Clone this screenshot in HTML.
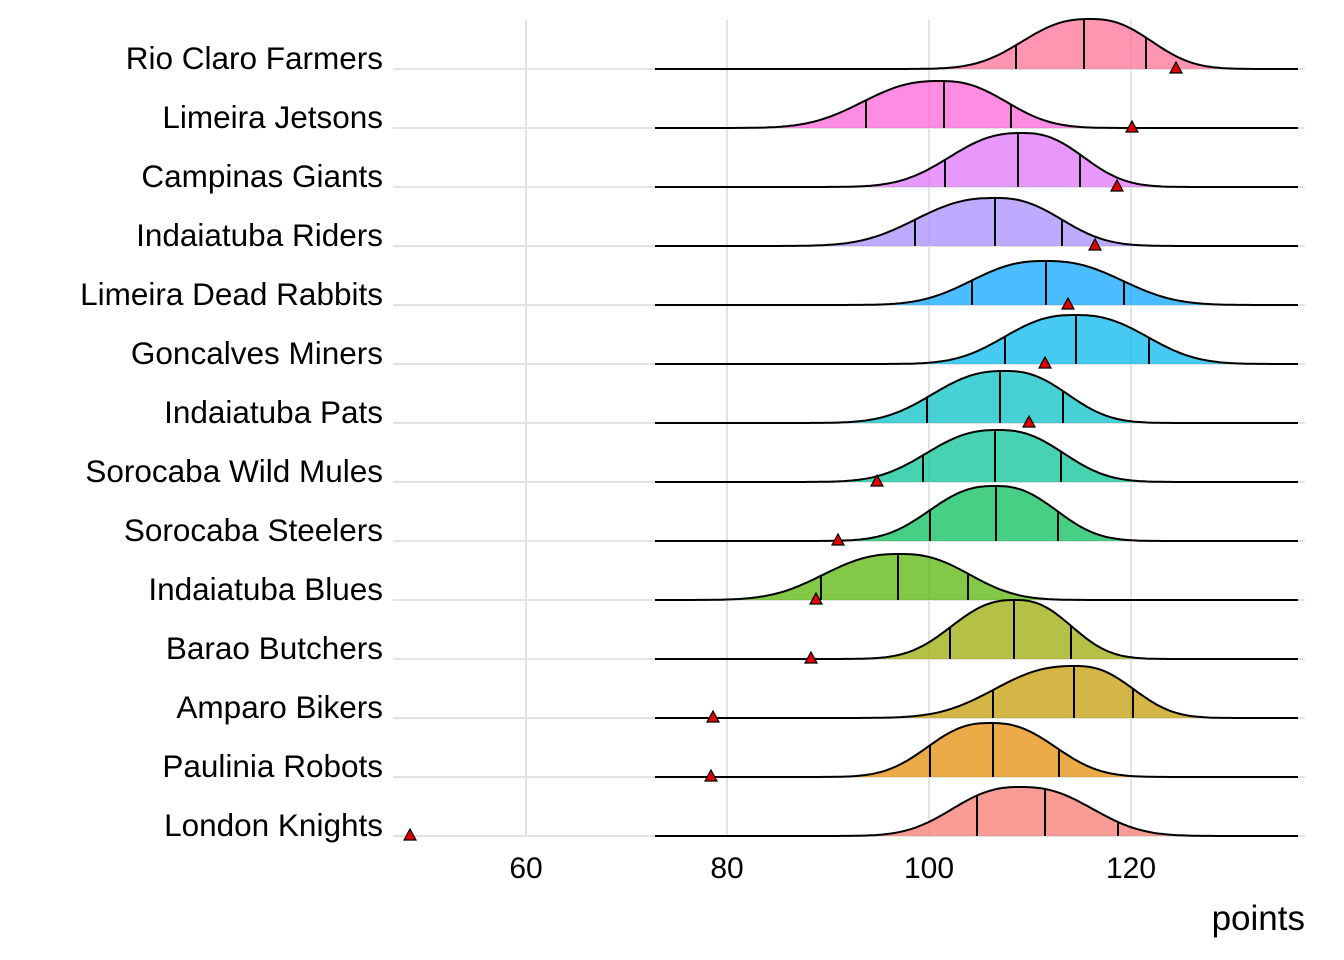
<!DOCTYPE html>
<html><head><meta charset="utf-8"><style>
body{margin:0;background:#fff}
svg{display:block}
text{font-family:"Liberation Sans",Arial,sans-serif;fill:#000}
</style></head><body>
<svg id="s" width="1344" height="960" viewBox="0 0 1344 960" xmlns="http://www.w3.org/2000/svg">
<rect width="1344" height="960" fill="#fff"/>
<g stroke="#e3e3e3" stroke-width="2">
<line x1="526" y1="20" x2="526" y2="836"/><line x1="727" y1="20" x2="727" y2="836"/>
<line x1="929" y1="20" x2="929" y2="836"/><line x1="1131" y1="20" x2="1131" y2="836"/>
</g>
<g id="rows"></g>
<g font-size="31.5" text-anchor="end">
<text x="383" y="69">Rio Claro Farmers</text>
<text x="383" y="128">Limeira Jetsons</text>
<text x="383" y="187">Campinas Giants</text>
<text x="383" y="246">Indaiatuba Riders</text>
<text x="383" y="305">Limeira Dead Rabbits</text>
<text x="383" y="364">Goncalves Miners</text>
<text x="383" y="423">Indaiatuba Pats</text>
<text x="383" y="482">Sorocaba Wild Mules</text>
<text x="383" y="541">Sorocaba Steelers</text>
<text x="383" y="600">Indaiatuba Blues</text>
<text x="383" y="659">Barao Butchers</text>
<text x="383" y="718">Amparo Bikers</text>
<text x="383" y="777">Paulinia Robots</text>
<text x="383" y="836">London Knights</text>
</g>
<g font-size="30" text-anchor="middle">
<text x="526" y="878">60</text><text x="727" y="878">80</text>
<text x="929" y="878">100</text><text x="1131" y="878">120</text>
</g>
<text x="1305" y="930" font-size="35" text-anchor="end">points</text>
</svg>
<script>
var R=[
["#FF6C91",1090,50,1016,1084,1146,1176],
["#FB61D7",940,47,866,944,1011,1132],
["#DF70F8",1022,54,945,1018,1080,1117],
["#A58AFF",995,48,915,995,1062,1095],
["#06A4FF",1045,44,972,1046,1124,1068],
["#00B6EB",1075,49,1005,1076,1149,1045],
["#00BFC4",1005,52,927,1000,1063,1029],
["#00C094",998,52,923,995,1061,877],
["#00BC56",995,55,930,996,1058,838],
["#53B400",900,46,821,898,968,816],
["#99A800",1015,59,950,1014,1071,811],
["#C49A00",1075,52,993,1074,1133,713],
["#E38900",990,54,930,993,1059,711],
["#F8766D",1020,49,977,1045,1118,410]];
var g=document.getElementById("rows"),h="";
R.forEach(function(r,i){
 var b=69+59*i,c=r[1],H=r[2],sl=Math.abs(r[4]-r[3])/1.076,sr=Math.abs(r[5]-r[4])/1.076;
 function f(x){var s=x<c?sl:sr;return H*Math.exp(-0.5*Math.pow(Math.abs(x-c)/s,2.5));}
 h+='<line x1="393" y1="'+b+'" x2="1305" y2="'+b+'" stroke="#e3e3e3" stroke-width="2"/>';
 var p="M655,"+b;
 for(var x=655;x<=1298;x+=3)p+=" L"+x+","+(b-f(x)).toFixed(1);
 p+=" L1298,"+b;
 h+='<path d="'+p+' Z" fill="'+r[0]+'" fill-opacity="0.72" stroke="none"/>';
 h+='<path d="'+p+'" fill="none" stroke="#000" stroke-width="2"/>';
 [r[3],r[4],r[5]].forEach(function(q){h+='<line x1="'+q+'" y1="'+b+'" x2="'+q+'" y2="'+(b-f(q)).toFixed(1)+'" stroke="#000" stroke-width="2"/>';});
 var t=r[6];
 h+='<polygon points="'+(t-6)+','+(b+4)+' '+(t+6)+','+(b+4)+' '+t+','+(b-7)+'" fill="#e00000" stroke="#000" stroke-width="1.2"/>';
});
g.innerHTML=h;
</script>
</body></html>
